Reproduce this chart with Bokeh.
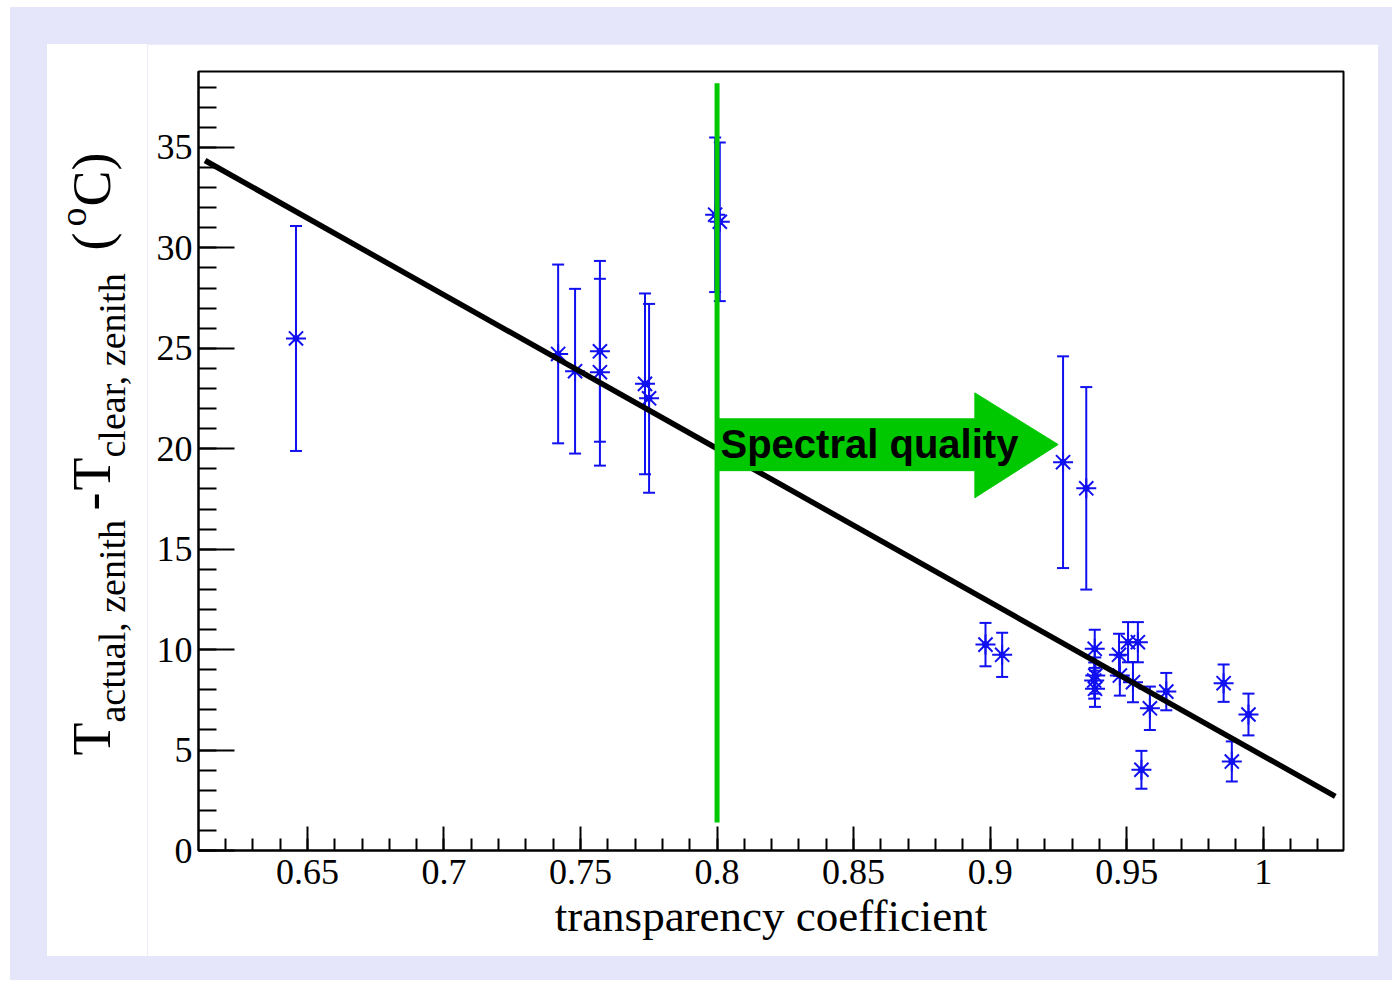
import math
from bokeh.plotting import figure
from bokeh.models import ColumnDataSource, Label, FixedTicker, SingleIntervalTicker, Range1d
from bokeh.layouts import column, row
from bokeh.embed import file_html
from bokeh.resources import INLINE

# ---- data ----
trans = [0.6458, 0.7418, 0.7480, 0.7571, 0.7571, 0.7736, 0.7751, 0.7993, 0.8010,
         0.9267, 0.9352, 0.8983, 0.9044, 0.9383, 0.9385, 0.9381, 0.9384,
         0.9472, 0.9505, 0.9541, 0.9475, 0.9523, 0.9585, 0.9645, 0.9554,
         0.9855, 0.9885, 0.9946]
dT = [25.49, 24.72, 23.86, 24.85, 23.81, 23.23, 22.51, 31.65, 31.30,
      19.33, 18.03, 10.25, 9.74, 10.04, 8.71, 8.46, 8.05,
      9.74, 10.37, 10.37, 8.71, 8.38, 7.08, 7.91, 4.02,
      8.33, 4.43, 6.77]
dT_err = [5.6, 4.45, 4.1, 4.5, 4.65, 4.5, 4.7, 3.85, 3.95,
          5.27, 5.04, 1.08, 1.1, 0.95, 0.9, 0.9, 0.9,
          1.05, 1.0, 1.0, 1.0, 1.0, 1.08, 0.93, 0.94,
          0.93, 1.0, 1.04]

fit_x = [0.6125, 1.0264]
fit_y = [34.35, 2.69]

cut_x = [0.8, 0.8]
cut_y = [1.4, 38.2]

# arrow "Spectral quality"
arrow_x = [0.8, 0.8944, 0.8944, 0.9249, 0.8944, 0.8944, 0.8]
arrow_y = [21.49, 21.49, 22.78, 20.21, 17.56, 18.91, 18.91]

x_ticks = [0.65, 0.7, 0.75, 0.8, 0.85, 0.9, 0.95, 1.0]
x_tick_labels = ["0.65", "0.7", "0.75", "0.8", "0.85", "0.9", "0.95", "1"]
x_minor = [round(0.61 + 0.01 * i, 2) for i in range(42)]

X0, X1 = 0.6101, 1.0294
Y0, Y1 = 0.0, 38.78

BLUE = "#1010F0"
GREEN = "#00C800"
SERIF = "Liberation Serif"

# page-pixel -> data helpers (frame spans x 198..1343, y 71..850)
def dx(px):
    return X0 + (px - 198.0) * (X1 - X0) / 1145.0

def dy(py):
    return (850.0 - py) * (Y1 - Y0) / 779.0

p = figure(width=1231, height=912, x_range=Range1d(X0, X1), y_range=Range1d(Y0, Y1),
           output_backend="svg", toolbar_location=None,
           min_border_left=51, min_border_right=35, min_border_top=27, min_border_bottom=106,
           background_fill_color="white", border_fill_color="white")
p.margin = (37, 14, 24, 0)
p.xgrid.grid_line_color = None
p.ygrid.grid_line_color = None
p.outline_line_color = "black"
p.outline_line_width = 2
p.outline_line_alpha = 1

# x axis
xa = p.xaxis[0]
xa.ticker = FixedTicker(ticks=x_ticks, minor_ticks=x_minor)
xa.major_label_overrides = {t: l for t, l in zip(x_ticks, x_tick_labels)}
xa.major_tick_in = 24
xa.major_tick_out = 0
xa.minor_tick_in = 12
xa.minor_tick_out = 0
xa.major_tick_line_width = 2
xa.minor_tick_line_width = 2
xa.axis_line_width = 2
xa.major_label_text_font = SERIF
xa.major_label_text_font_size = "36px"
xa.major_label_text_color = "black"
xa.major_label_standoff = 9
xa.axis_label = "transparency coefficient"
xa.axis_label_text_font = SERIF
xa.axis_label_text_font_size = "45px"
xa.axis_label_text_font_style = "normal"
xa.axis_label_text_color = "black"
xa.axis_label_standoff = 4

# y axis
ya = p.yaxis[0]
ya.ticker = SingleIntervalTicker(interval=5, num_minor_ticks=5)
ya.major_tick_in = 36
ya.major_tick_out = 0
ya.minor_tick_in = 18
ya.minor_tick_out = 0
ya.major_tick_line_width = 2
ya.minor_tick_line_width = 2
ya.axis_line_width = 2
ya.major_label_text_font = SERIF
ya.major_label_text_font_size = "36px"
ya.major_label_text_color = "black"
ya.major_label_standoff = 6

# data
src = ColumnDataSource(dict(x=trans, y=dT,
                            lo=[v - e for v, e in zip(dT, dT_err)],
                            hi=[v + e for v, e in zip(dT, dT_err)]))
p.segment(x0="x", y0="lo", x1="x", y1="hi", source=src, line_color=BLUE, line_width=2)
p.scatter(x="x", y="hi", source=src, marker="dash", size=12, line_color=BLUE, line_width=2)
p.scatter(x="x", y="lo", source=src, marker="dash", size=12, line_color=BLUE, line_width=2)
p.scatter(x="x", y="y", source=src, marker="asterisk", size=20, line_color=BLUE, line_width=2)
p.scatter(x="x", y="y", source=src, marker="circle", size=6, fill_color=BLUE, line_color=BLUE)

# fit line
p.line(fit_x, fit_y, line_color="black", line_width=5.5)

# cut line and arrow
p.line(cut_x, cut_y, line_color=GREEN, line_width=5)
p.patch(arrow_x, arrow_y, fill_color=GREEN, line_color=GREEN, line_width=1)

p.add_layout(Label(x=dx(720), y=dy(443), text="Spectral quality", text_font="Liberation Sans",
                   text_font_style="bold", text_font_size="40px", text_color="black",
                   text_align="left", text_baseline="alphabetic"))

# ---- y axis title in a narrow side panel (page x 47..147) ----
# its frame is aligned with the main frame (page y 71..850); Y = 956 - page_y
ylab = figure(width=100, height=912, x_range=Range1d(0, 100), y_range=Range1d(106, 885),
              output_backend="svg", toolbar_location=None,
              x_axis_location=None, y_axis_location=None,
              min_border_left=0, min_border_right=0, min_border_top=27, min_border_bottom=106,
              background_fill_color="white", border_fill_color="white", outline_line_color=None,
              styles={"background-color": "white"})
ylab.xgrid.grid_line_color = None
ylab.ygrid.grid_line_color = None
ylab.margin = (37, 0, 24, 37)

MAIN = 54
SUB = 38
# (text, font px, baseline page-x, start page-y); text reads bottom to top
pieces = [
    ("T", MAIN, 113, 755),
    ("actual, zenith", SUB, 127, 722),
    ("-", MAIN, 113, 510),
    ("T", MAIN, 113, 490),
    ("clear, zenith", SUB, 127, 457),
    ("(", MAIN, 113, 250),
    ("o", SUB, 88, 226),
    ("C)", MAIN, 113, 206),
]
for txt, fs, bx, y0 in pieces:
    ylab.add_layout(Label(x=(bx - 47) - 0.4 * fs, y=956 - y0,
                          text=txt, text_font=SERIF, text_font_size=f"{fs}px",
                          text_color="black", angle=math.pi / 2, angle_units="rad",
                          text_align="left", text_baseline="alphabetic"))

layout = column(row(ylab, p), styles={"background-color": "#E6E6FA"}, margin=(7, 0, 0, 10))

open("out.html", "w").write(file_html(layout, INLINE))
